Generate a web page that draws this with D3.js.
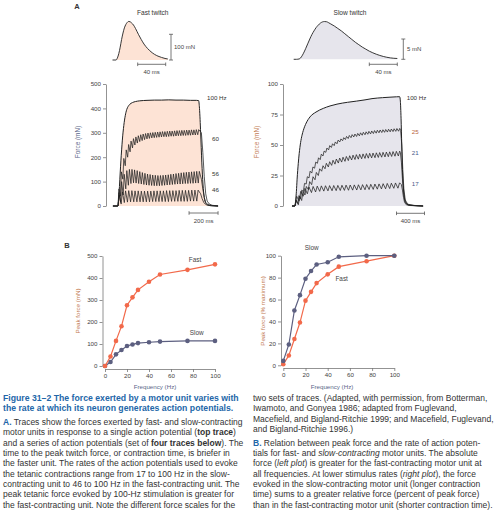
<!DOCTYPE html>
<html><head><meta charset="utf-8">
<script src="https://cdn.jsdelivr.net/npm/d3@7"></script>
<style>
body{margin:0;background:#fff}
svg{display:block}
text{font-family:"Liberation Sans",Arial,Helvetica,sans-serif}
</style>
</head><body>
<svg id="c" width="500" height="515"></svg>
<script>
// ---------- DATA ----------
// Single twitch (time ms, force mN)
const fastTwitchT = [-5,0,2,4,6,8,10,12,14,16,18,20,22,25,28,32,36,40,45,50,55,60,65,70,74];
const fastTwitchF = [0,0,8,25,50,80,105,125,138,146,150,149,145,136,122,100,80,62,45,32,22,15,10,6,4];
const slowTwitchT = [-8,-4,0,3,6,9,12,15,18,21,24,27,30,33,36,39,42,45,50,55,60,65,70,75,80,85,90,95,100,105,110,115,120,125,130,135,140];
const slowTwitchF = [0,0,0.1,0.6,1.5,2.6,3.8,5.0,6.1,7.0,7.8,8.4,8.9,9.2,9.3,9.25,9.0,8.7,8.2,7.6,7.0,6.3,5.6,4.9,4.2,3.6,3.0,2.5,2.0,1.6,1.25,0.95,0.7,0.5,0.35,0.25,0.2];

// Fast unit tetanus, 100 Hz (smooth)
const fast100T = [-35,-5,0,5,10,15,20,25,30,40,50,60,70,80,100,120,150,200,250,300,350,400,450,500,540,556,562,570,578,586,595,605,620,645,690];
const fast100F = [0,0,2,30,80,135,185,230,270,330,370,395,408,416,424,428,431,433,434,434,435,434,434,433,433,432,400,300,180,90,35,12,4,1,0];
// Partially fused tetani: force just before each stimulus (troughs) and at each twitch peak
const fast60Trough = [0,40,110,165,200,222,238,250,258,264,268,272,275,277,279,280,281,282,283,284,284,285,286,286,287,288,288,289,289,290,290,291,291,292];
const fast60Peak   = [70,140,195,230,252,266,276,283,288,292,295,297,299,300,301,302,303,304,305,305,306,307,307,308,309,309,310,310,311,311,312,312,313,313];
const fast60Tail   = [[575,300],[585,220],[595,120],[605,50],[615,20],[630,8],[650,3],[690,0]];
const fast56Trough = [0,15,45,70,85,92,95,94,92,90,88,86,85,84,83,83,83,84,85,86,87,88,89,90,90,91,92,92,93,93,94,94];
const fast56Peak   = [55,100,130,145,150,150,148,145,141,137,134,131,129,127,126,125,125,126,127,128,130,131,133,134,136,137,138,139,140,141,142,142];
const fast56Tail   = [[575,110],[585,70],[595,35],[605,15],[620,6],[645,2],[690,0]];
const fast46Trough = [0,8,14,16,17,17,17,17,17,17,17,18,18,18,18,18,18,19,19,19,19,19,19,20,20,20];
const fast46Peak   = [45,58,62,63,63,62,62,61,61,61,61,62,62,62,62,63,63,63,63,64,64,64,64,65,65,65];
const fast46Tail   = [[570,50],[580,30],[592,14],[605,6],[625,2],[690,0]];

// Slow unit tetanus, 100 Hz (smooth)
const slow100T = [-43,-5,0,10,20,30,47,60,80,100,119,160,214,300,404,500,600,750,881,1000,1100,1250,1357,1450,1495,1505,1515,1525,1535,1550,1570,1600,1650,1830];
const slow100F = [0,0,0.5,5,12,22,35,43,52,58,62,68,73,77,80,82,83.5,85,86,87,88,88.8,89.2,89.5,89.6,86,72,50,30,14,5,1.5,0.5,0];
const slow25Trough = [0,2,6,12,18,23,27,31,35,38,41,44,46,48,49.5,51,52.5,53.5,54.5,55.3,56,56.6,57,57.5,58,58.4,58.8,59.1,59.4,59.7,60,60.2,60.4,60.6,60.8,61,61.2,61.3];
const slow25Peak   = [4,8.5,13,18.5,24,28.5,32,36,39.5,42.5,45,47.5,49.5,51,52.5,54,55,56,57,57.8,58.5,59,59.5,60,60.4,60.8,61.2,61.5,61.8,62.1,62.3,62.5,62.7,62.9,63.1,63.3,63.5,63.6];
const slow25Tail   = [[1510,62],[1525,50],[1540,30],[1555,14],[1575,5],[1610,1.5],[1700,0.5],[1830,0]];
const slow21Trough = [0,1,4.5,9,13.5,17.5,21.5,25,28.5,30.5,32,33.3,34.3,35.2,36,36.6,37.2,37.7,38.1,38.4,38.7,39,39.2,39.4,39.6,39.8,40,40.2,40.4,40.6,40.8,41];
const slow21Peak   = [5,8,12,16,20,24,27.5,30.5,33,35,36.3,37.5,38.5,39.3,40,40.6,41.2,41.7,42.1,42.4,42.7,43,43.2,43.4,43.6,43.8,44,44.2,44.4,44.6,44.8,45];
const slow21Tail   = [[1505,44],[1520,36],[1535,22],[1550,11],[1570,4],[1610,1],[1700,0.4],[1830,0]];
const slow17Trough = [0,4,8,10,11,11.5,12,12.2,12.4,12.5,12.6,12.7,12.8,12.9,13,13.1,13.2,13.3,13.5,13.6,13.8,14,14.1,14.3,14.5,14.6];
const slow17Peak   = [8,12,14.5,15.5,16,16.3,16.5,16.6,16.7,16.8,16.9,17,17.1,17.2,17.3,17.4,17.5,17.6,17.8,18,18.1,18.3,18.5,18.7,18.9,19];
const slow17Tail   = [[1520,17.5],[1535,13],[1550,7],[1565,3],[1590,1],[1640,0.4],[1830,0]];

// Panel B
const freqB   = [0,5,10,15,20,25,30,40,50,75,100];
const fastAbs = [0,43,114,181,276,312,346,383,416,437,462];
const slowAbs = [0,18,53,73,91,98,104,108,111,114,114];
const fastRel = [1,9,24,39,59,67,75,83,90,95,100];
const slowRel = [4,19,50,64,79,86,92,94,99,100,100];

const ticksFastForce = [0,100,200,300,400,500];
const ticksSlowForce = [0,25,50,75,100];
const ticksFreq = [0,20,40,60,80,100];
const ticksPeakAbs = [0,100,200,300,400,500];
const ticksPeakRel = [0,20,40,60,80,100];

const captionLeft = [
  [["t","Figure 31–2 The force exerted by a motor unit varies with"]],
  [["t","the rate at which its neuron generates action potentials."]],
  [["b","A."],["n"," Traces show the forces exerted by fast- and slow-contracting"]],
  [["n","motor units in response to a single action potential ("],["k","top trace"],["n",")"]],
  [["n","and a series of action potentials (set of "],["k","four traces below"],["n","). The"]],
  [["n","time to the peak twitch force, or contraction time, is briefer in"]],
  [["n","the faster unit. The rates of the action potentials used to evoke"]],
  [["n","the tetanic contractions range from 17 to 100 Hz in the slow-"]],
  [["n","contracting unit to 46 to 100 Hz in the fast-contracting unit. The"]],
  [["n","peak tetanic force evoked by 100-Hz stimulation is greater for"]],
  [["n","the fast-contracting unit. Note the different force scales for the"]]
];
const captionRight = [
  [["n","two sets of traces. (Adapted, with permission, from Botterman,"]],
  [["n","Iwamoto, and Gonyea 1986; adapted from Fuglevand,"]],
  [["n","Macefield, and Bigland-Ritchie 1999; and Macefield, Fuglevand,"]],
  [["n","and Bigland-Ritchie 1996.)"]],
  [["b","B."],["n"," Relation between peak force and the rate of action poten-"]],
  [["n","tials for fast- and "],["i","slow-contracting"],["n"," motor units. The absolute"]],
  [["n","force ("],["i","left plot"],["n",") is greater for the fast-contracting motor unit at"]],
  [["n","all frequencies. At lower stimulus rates ("],["i","right plot"],["n","), the force"]],
  [["n","evoked in the slow-contracting motor unit (longer contraction"]],
  [["n","time) sums to a greater relative force (percent of peak force)"]],
  [["n","than in the fast-contracting motor unit (shorter contraction time)."]]
];

// ---------- STYLE ----------
const FAST = "#f2694a", SLOW = "#5c5f80", INK = "#222", TXT = "#444", AX = "#777";
const BLUE = "#2266a8";
const svg = d3.select("#c");
svg.append("rect").attr("width",500).attr("height",515).attr("fill","#fff");

// ---------- SCALES ----------
const ftX = d3.scaleLinear().domain([0,40]).range([116,144]);
const ftY = d3.scaleLinear().domain([0,100]).range([60,34.3]);
const stX = d3.scaleLinear().domain([0,40]).range([299.3,327.3]);
const stY = d3.scaleLinear().domain([0,5]).range([59.3,39]);
const fX = d3.scaleLinear().domain([0,200]).range([118,147]);
const fY = d3.scaleLinear().domain([0,500]).range([206,84]);
const sX = d3.scaleLinear().domain([0,400]).range([295,323]);
const sY = d3.scaleLinear().domain([0,100]).range([206,84]);
const bLX = d3.scaleLinear().domain([0,100]).range([105,215]);
const bLY = d3.scaleLinear().domain([0,500]).range([366,256]);
const bRX = d3.scaleLinear().domain([0,100]).range([283.3,394.3]);
const bRY = d3.scaleLinear().domain([0,100]).range([365.3,255.7]);

function txt(x,y,s,opt={}){
  return svg.append("text").attr("x",x).attr("y",y).text(s)
    .attr("font-size",opt.size||6.4).attr("fill",opt.fill||TXT)
    .attr("text-anchor",opt.anchor||"start")
    .attr("font-weight",opt.weight||"normal")
    .attr("transform",opt.rot?`rotate(-90,${x},${y})`:null);
}

// ---------- A: single twitches ----------
function twitch(T,F,xs,ys,fill){
  const pts = T.map((t,i)=>[t,F[i]]);
  svg.append("path").datum(pts).attr("fill",fill)
    .attr("d",d3.area().x(d=>xs(d[0])).y0(ys(0)).y1(d=>ys(d[1])).curve(d3.curveMonotoneX));
  svg.append("path").datum(pts).attr("fill","none").attr("stroke",INK).attr("stroke-width",0.9)
    .attr("d",d3.line().x(d=>xs(d[0])).y(d=>ys(d[1])).curve(d3.curveMonotoneX));
}
twitch(fastTwitchT,fastTwitchF,ftX,ftY,"#fde3d5");
twitch(slowTwitchT,slowTwitchF,stX,stY,"#e6e5ec");

function vbar(x,y0,y1){
  const g=svg.append("g").attr("stroke","#555").attr("stroke-width",0.8);
  g.append("line").attr("x1",x).attr("x2",x).attr("y1",y0).attr("y2",y1);
  g.append("line").attr("x1",x-2).attr("x2",x+2).attr("y1",y0).attr("y2",y0);
  g.append("line").attr("x1",x-2).attr("x2",x+2).attr("y1",y1).attr("y2",y1);
}
function hbar(x0,x1,y){
  const g=svg.append("g").attr("stroke","#555").attr("stroke-width",0.8);
  g.append("line").attr("x1",x0).attr("x2",x1).attr("y1",y).attr("y2",y);
  g.append("line").attr("x1",x0).attr("x2",x0).attr("y1",y-1.8).attr("y2",y+1.8);
  g.append("line").attr("x1",x1).attr("x2",x1).attr("y1",y-1.8).attr("y2",y+1.8);
}
// twitch scale bars
vbar(171, ftY(0), ftY(100)); txt(174,49,"100 mN",{size:6});
hbar(ftX(31), ftX(71), 64.3); txt((ftX(31)+ftX(71))/2,73.5,"40 ms",{size:6,anchor:"middle"});
vbar(403.3, stY(0), stY(5)); txt(407,51,"5 mN",{size:6});
hbar(stX(100), stX(140), 64.3); txt((stX(100)+stX(140))/2,73.5,"40 ms",{size:6,anchor:"middle"});
txt(152.7,15,"Fast twitch",{size:6.6,anchor:"middle",fill:"#333"});
txt(350,15,"Slow twitch",{size:6.6,anchor:"middle",fill:"#333"});
txt(77,9,"A",{size:7.5,weight:"bold",fill:"#333",anchor:"middle"});

// ---------- A: tetanic traces ----------
function zig(freq,trough,peak,tail,pre){
  const per = 1000/freq, pts=[[pre,0]];
  trough.forEach((v,i)=>{ pts.push([i*per,v]); pts.push([i*per+0.4*per,peak[i]]); });
  return pts.concat(tail);
}
function trace(pts,xs,ys,w){
  svg.append("path").datum(pts).attr("fill","none").attr("stroke",INK)
    .attr("stroke-width",w||0.8).attr("stroke-linejoin","round")
    .attr("d",d3.line().x(d=>xs(d[0])).y(d=>ys(d[1])));
}
const f100 = fast100T.map((t,i)=>[t,fast100F[i]]);
svg.append("path").datum(f100).attr("fill","#fde3d5")
  .attr("d",d3.area().x(d=>fX(d[0])).y0(fY(0)).y1(d=>fY(d[1])).curve(d3.curveMonotoneX));
const s100 = slow100T.map((t,i)=>[t,slow100F[i]]);
svg.append("path").datum(s100).attr("fill","#e6e5ec")
  .attr("d",d3.area().x(d=>sX(d[0])).y0(sY(0)).y1(d=>sY(d[1])).curve(d3.curveMonotoneX));

trace(zig(46,fast46Trough,fast46Peak,fast46Tail,-35),fX,fY,0.75);
trace(zig(56,fast56Trough,fast56Peak,fast56Tail,-35),fX,fY,0.75);
trace(zig(60,fast60Trough,fast60Peak,fast60Tail,-35),fX,fY,0.75);
svg.append("path").datum(f100).attr("fill","none").attr("stroke",INK).attr("stroke-width",1)
  .attr("d",d3.line().x(d=>fX(d[0])).y(d=>fY(d[1])).curve(d3.curveMonotoneX));

trace(zig(17,slow17Trough,slow17Peak,slow17Tail,-43),sX,sY,0.75);
trace(zig(21,slow21Trough,slow21Peak,slow21Tail,-43),sX,sY,0.75);
trace(zig(25,slow25Trough,slow25Peak,slow25Tail,-43),sX,sY,0.75);
svg.append("path").datum(s100).attr("fill","none").attr("stroke",INK).attr("stroke-width",1)
  .attr("d",d3.line().x(d=>sX(d[0])).y(d=>sY(d[1])).curve(d3.curveMonotoneX));

function styleAxis(g){
  g.selectAll("path.domain").attr("stroke",AX).attr("stroke-width",0.8);
  g.selectAll(".tick line").attr("stroke",AX).attr("stroke-width",0.8);
  g.selectAll(".tick text").attr("fill",TXT).attr("font-size",6.2)
    .attr("font-family",'"Liberation Sans",Arial,sans-serif');
}
styleAxis(svg.append("g").attr("transform","translate(106,0)")
  .call(d3.axisLeft(fY).tickValues(ticksFastForce).tickSize(3).tickSizeOuter(0).tickPadding(2)));
styleAxis(svg.append("g").attr("transform","translate(283,0)")
  .call(d3.axisLeft(sY).tickValues(ticksSlowForce).tickSize(3).tickSizeOuter(0).tickPadding(2)));
txt(80,142,"Force (mN)",{size:6.4,anchor:"middle",rot:true,fill:"#5a6688"});
txt(259,142,"Force (mN)",{size:6.4,anchor:"middle",rot:true,fill:"#c27a52"});

txt(207,100,"100 Hz",{size:6.2,fill:"#333"});
txt(212,141,"60",{size:6.2,fill:"#333"});
txt(212,176,"56",{size:6.2,fill:"#333"});
txt(212,192,"46",{size:6.2,fill:"#333"});
txt(406.7,99.5,"100 Hz",{size:6.2,fill:"#333"});
txt(411.7,134,"25",{size:6.2,fill:"#b8653e"});
txt(411.7,155,"21",{size:6.2,fill:"#4a5a8a"});
txt(411.7,186,"17",{size:6.2,fill:"#4a5a8a"});

hbar(fX(490), fX(690), 213); txt((fX(490)+fX(690))/2,223,"200 ms",{size:6,anchor:"middle"});
hbar(sX(1450), sX(1850), 213.3); txt((sX(1450)+sX(1850))/2,223,"400 ms",{size:6,anchor:"middle"});

// ---------- B ----------
txt(67,248,"B",{size:7.5,weight:"bold",fill:"#333",anchor:"middle"});
function plotB(xs,ys,yTicks,axX,axY,series){
  styleAxis(svg.append("g").attr("transform",`translate(${axX},0)`)
    .call(d3.axisLeft(ys).tickValues(yTicks).tickSize(3).tickSizeOuter(0).tickPadding(2)));
  styleAxis(svg.append("g").attr("transform",`translate(0,${axY})`)
    .call(d3.axisBottom(xs).tickValues(ticksFreq).tickSize(3).tickSizeOuter(0).tickPadding(1.5)));
  series.forEach(([vals,col])=>{
    const pts = freqB.map((f,i)=>[f,vals[i]]);
    svg.append("path").datum(pts).attr("fill","none").attr("stroke",col).attr("stroke-width",1.2)
      .attr("d",d3.line().x(d=>xs(d[0])).y(d=>ys(d[1])));
    svg.append("g").selectAll("circle").data(pts).join("circle")
      .attr("cx",d=>xs(d[0])).attr("cy",d=>ys(d[1])).attr("r",2.3).attr("fill",col);
  });
}
plotB(bLX,bLY,ticksPeakAbs,102.5,369,[[slowAbs,SLOW],[fastAbs,FAST]]);
plotB(bRX,bRY,ticksPeakRel,281,368,[[fastRel,FAST],[slowRel,SLOW]]);
txt(195,262,"Fast",{size:6.4,anchor:"middle",fill:"#444"});
txt(196.7,335,"Slow",{size:6.4,anchor:"middle",fill:"#444"});
txt(311.7,249.5,"Slow",{size:6.4,anchor:"middle",fill:"#444"});
txt(341.7,281,"Fast",{size:6.4,anchor:"middle",fill:"#444"});
txt(155,388.5,"Frequency (Hz)",{size:6.2,anchor:"middle",fill:"#5a6688"});
txt(332,388.5,"Frequency (Hz)",{size:6.2,anchor:"middle",fill:"#5a6688"});
txt(80,311,"Peak force (mN)",{size:6.2,anchor:"middle",rot:true,fill:"#c27a52"});
txt(265,311,"Peak force (% maximum)",{size:6.2,anchor:"middle",rot:true,fill:"#c27a52"});

// ---------- Caption ----------
function caption(lines,x,gapAfter){
  let y=401;
  lines.forEach((segs,i)=>{
    const t=svg.append("text").attr("x",x).attr("y",y).attr("font-size",8.5).attr("fill","#333");
    segs.forEach(([k,s])=>{
      const sp=t.append("tspan").text(s);
      if(k==="t"){sp.attr("font-weight","bold").attr("fill",BLUE).attr("font-size",8.7);}
      if(k==="b"){sp.attr("font-weight","bold").attr("fill",BLUE);}
      if(k==="k"){sp.attr("font-weight","bold");}
      if(k==="i"){sp.attr("font-style","italic");}
    });
    y += 10.3 + (i===gapAfter?3.5:0);
  });
}
caption(captionLeft,3,1);
caption(captionRight,253,3);
</script>
</body></html>
